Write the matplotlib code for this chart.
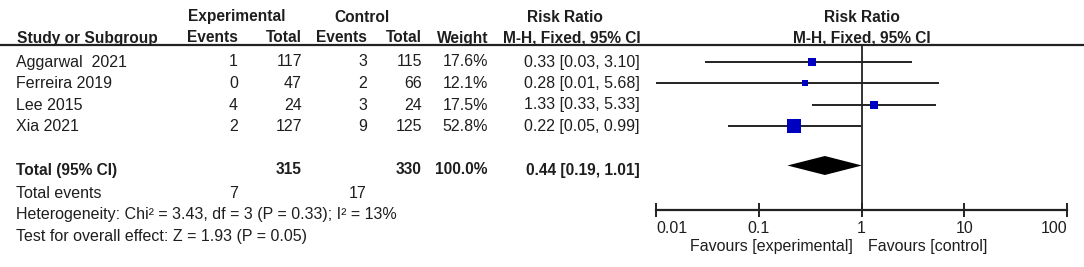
import matplotlib
matplotlib.use('Agg')
import matplotlib.pyplot as plt
from matplotlib.ticker import FixedLocator, FixedFormatter

plt.rcParams['font.family'] = ['Liberation Sans', 'DejaVu Sans']

# data
studies = ['Aggarwal  2021', 'Ferreira 2019', 'Lee 2015', 'Xia 2021']
exp_events = [1, 0, 4, 2]
exp_total = [117, 47, 24, 127]
ctl_events = [3, 2, 3, 9]
ctl_total = [115, 66, 24, 125]
weights = [17.6, 12.1, 17.5, 52.8]
rr = [0.33, 0.28, 1.33, 0.22]
rr_lo = [0.03, 0.01, 0.33, 0.05]
rr_hi = [3.10, 5.68, 5.33, 0.99]
pooled = (0.44, 0.19, 1.01)
tot_exp, tot_ctl = 315, 330
tot_exp_ev, tot_ctl_ev = 7, 17
hetero = 'Heterogeneity: Chi\u00b2 = 3.43, df = 3 (P = 0.33); I\u00b2 = 13%'
overall = 'Test for overall effect: Z = 1.93 (P = 0.05)'
xticks = [0.01, 0.1, 1, 10, 100]
xtick_labels = ['0.01', '0.1', '1', '10', '100']

W, H = 1084, 267
fig = plt.figure(figsize=(W / 100, H / 100), dpi=100)
ax = fig.add_axes([0, 0, 1, 1])
ax.set_xlim(0, W)
ax.set_ylim(H, 0)
ax.axis('off')

fs = 11.5
fsb = 11.2
tc = '#1e1e1e'
row_y = [62, 83.5, 105, 126.5]
tot_y = 170

# header
hdr = dict(fontsize=fsb, fontweight='bold', color=tc, va='center')
ax.text(237, 17, 'Experimental', ha='center', **hdr)
ax.text(362, 17, 'Control', ha='center', **hdr)
ax.text(565, 17, 'Risk Ratio', ha='center', **hdr)
ax.text(17, 38, 'Study or Subgroup', ha='left', **hdr)
ax.text(238, 38, 'Events', ha='right', **hdr)
ax.text(302, 38, 'Total', ha='right', **hdr)
ax.text(367, 38, 'Events', ha='right', **hdr)
ax.text(422, 38, 'Total', ha='right', **hdr)
ax.text(488, 38, 'Weight', ha='right', **hdr)
ax.text(641, 38, 'M-H, Fixed, 95% CI', ha='right', **hdr)
ax.text(862, 17, 'Risk Ratio', ha='center', **hdr)
ax.text(862, 38, 'M-H, Fixed, 95% CI', ha='center', **hdr)
ax.plot([0, 1083], [45, 45], color='#222222', lw=1.6)

# study rows
norm = dict(fontsize=fs, color=tc, va='center')
for i, y in enumerate(row_y):
    ax.text(16, y, studies[i], ha='left', **norm)
    ax.text(238, y, str(exp_events[i]), ha='right', **norm)
    ax.text(302, y, str(exp_total[i]), ha='right', **norm)
    ax.text(367, y, str(ctl_events[i]), ha='right', **norm)
    ax.text(422, y, str(ctl_total[i]), ha='right', **norm)
    ax.text(488, y, '%.1f%%' % weights[i], ha='right', **norm)
    ax.text(640, y, '%.2f [%.2f, %.2f]' % (rr[i], rr_lo[i], rr_hi[i]), ha='right', **norm)

# totals
ax.text(16, tot_y, 'Total (95% CI)', ha='left', **hdr)
ax.text(302, tot_y, str(tot_exp), ha='right', **hdr)
ax.text(422, tot_y, str(tot_ctl), ha='right', **hdr)
ax.text(488, tot_y, '%.1f%%' % sum(weights), ha='right', **hdr)
ax.text(640, tot_y, '%.2f [%.2f, %.2f]' % pooled, ha='right', **hdr)
ax.text(16, 193, 'Total events', ha='left', **norm)
ax.text(238, 193, str(tot_exp_ev), ha='right', **norm)
ax.text(367, 193, str(tot_ctl_ev), ha='right', **norm)
ax.text(16, 215, hetero, ha='left', **norm)
ax.text(16, 237, overall, ha='left', **norm)

# forest plot axes (pixel y, log x)
x0, x1 = 656, 1067
y_top, y_axis = 45, 210
fp = fig.add_axes([x0 / W, (H - y_axis) / H, (x1 - x0) / W, (y_axis - y_top) / H])
fp.set_xscale('log')
fp.set_xlim(0.01, 100)
fp.set_ylim(y_axis, y_top)
fp.patch.set_alpha(0)
for s in ['top', 'left', 'right']:
    fp.spines[s].set_visible(False)
fp.spines['bottom'].set_linewidth(1.6)
fp.spines['bottom'].set_color('#222222')
fp.set_yticks([])
fp.xaxis.set_major_locator(FixedLocator(xticks))
fp.xaxis.set_major_formatter(FixedFormatter(xtick_labels))
fp.xaxis.set_minor_locator(FixedLocator([]))
fp.tick_params(axis='x', direction='inout', length=10, width=1.4, color='#222222',
               labelsize=fs, labelcolor=tc, pad=3)
ticklabs = fp.get_xticklabels()
ticklabs[0].set_ha('left')
ticklabs[-1].set_ha('right')
fp.axvline(1, color='#222222', lw=1.3)

for i, y in enumerate(row_y):
    fp.plot([rr_lo[i], rr_hi[i]], [y, y], color='#222222', lw=1.4, solid_capstyle='butt')
    side = 1.93 * weights[i] ** 0.5
    fp.plot(rr[i], y, marker='s', ms=side * 0.72, color='#0000c0', mec='#0000c0', mew=0)

est, lo, hi = pooled
dy = 165.5
fp.fill([lo, est, hi, est], [dy, dy - 9.5, dy, dy + 9.5], color='black', lw=0)

ax.text(853, 247, 'Favours [experimental]', ha='right', **norm)
ax.text(868, 247, 'Favours [control]', ha='left', **norm)

fig.savefig('out.png', dpi=100)
